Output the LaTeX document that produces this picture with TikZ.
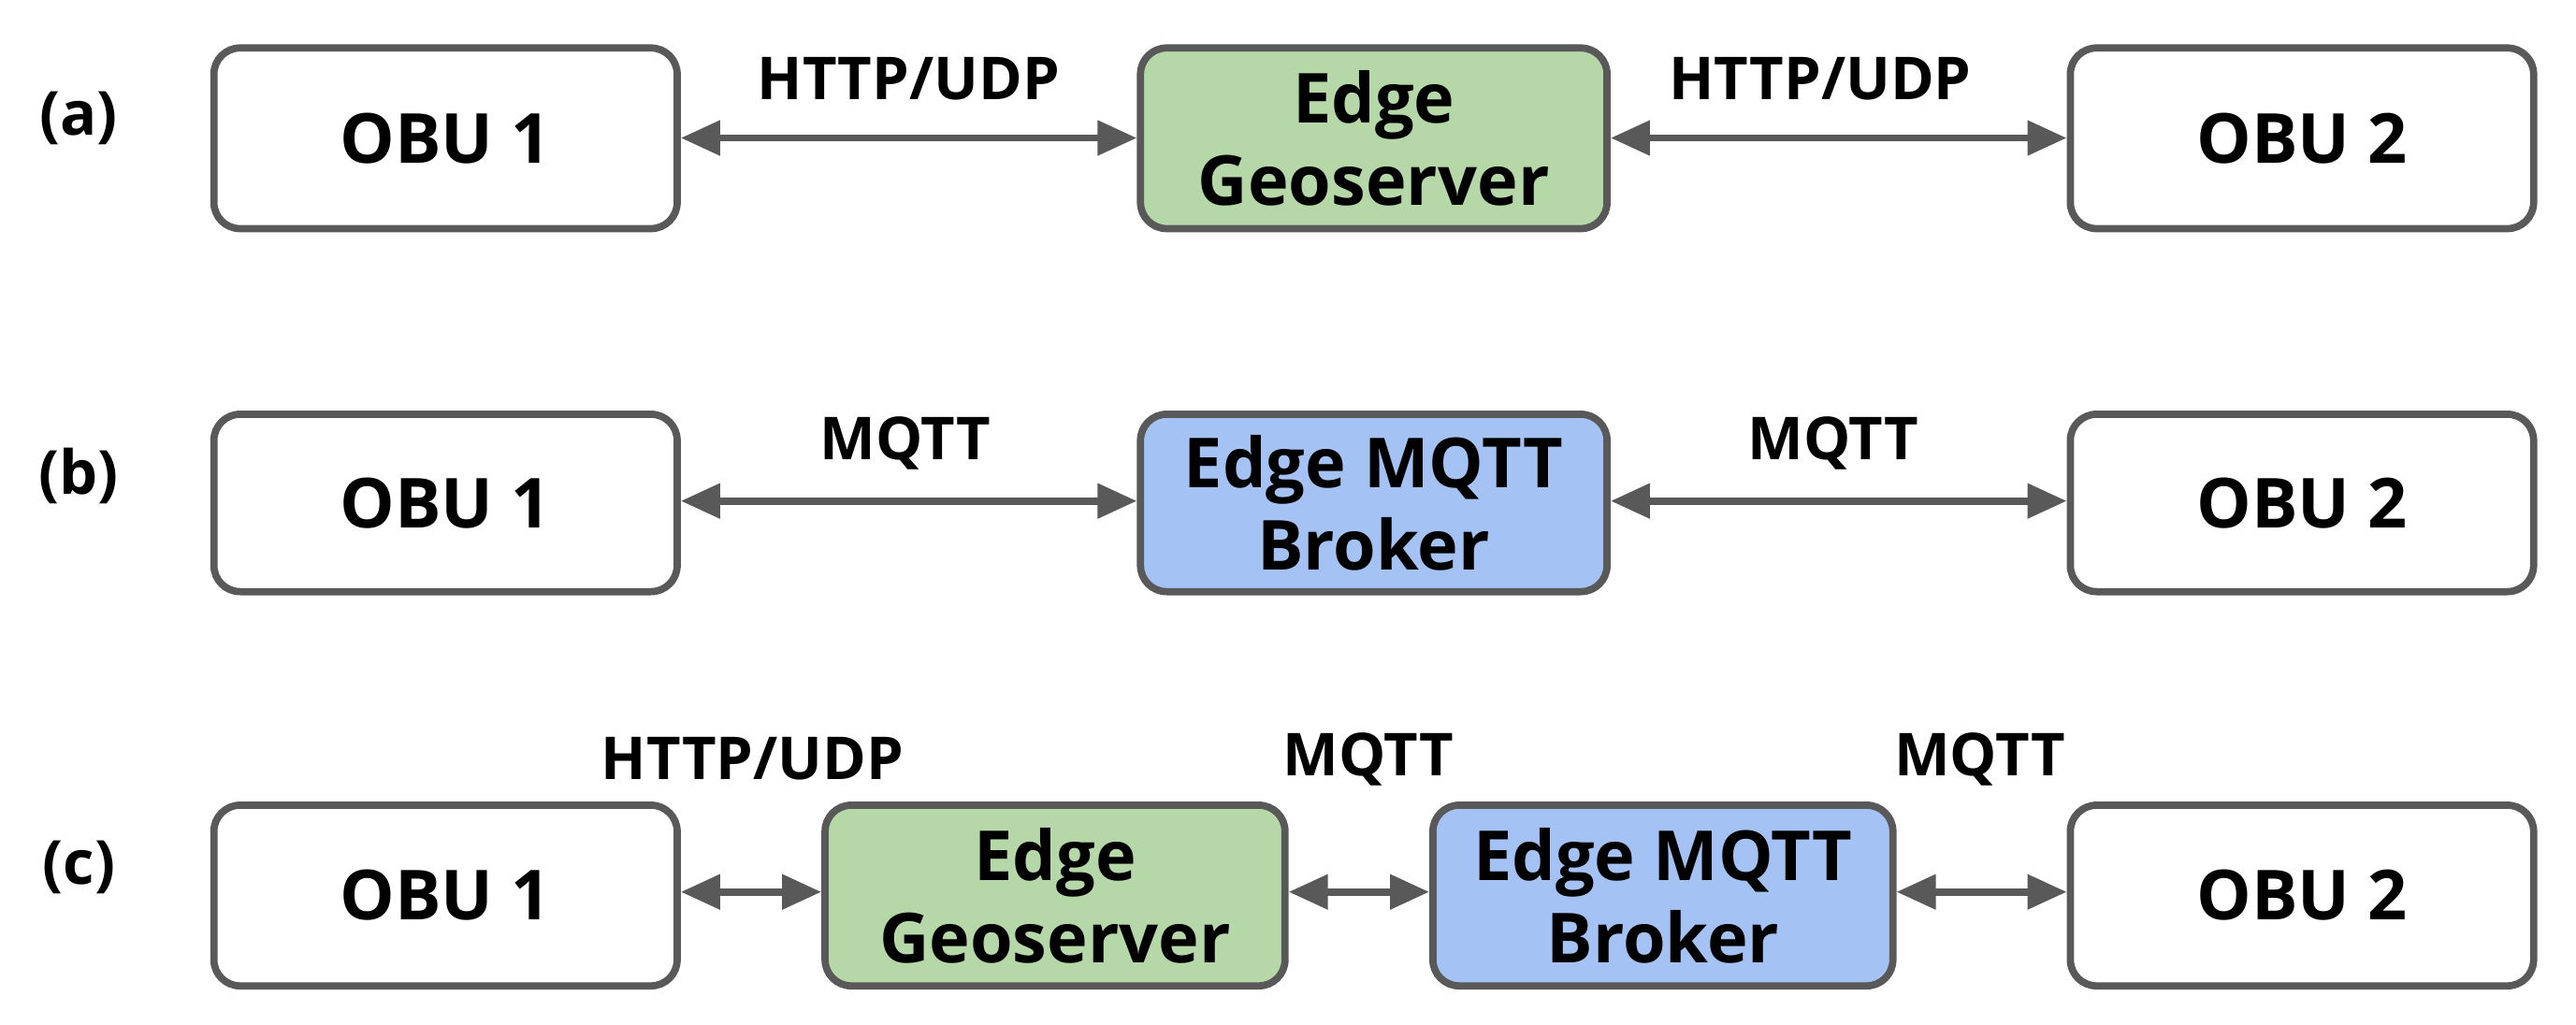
\documentclass[tikz,border=0pt]{standalone}
\usepackage{fontspec}
\setmainfont{Open Sans}
\usetikzlibrary{arrows.meta}
\definecolor{bd}{HTML}{595959}
\definecolor{gr}{HTML}{B6D7A8}
\definecolor{bl}{HTML}{A4C2F4}
\begin{document}
\begin{tikzpicture}[x=0.01756cm,y=-0.01756cm,
 box/.style={draw=bd,line width=2.2pt,rounded corners=0.28cm,fill=white,align=center,font=\bfseries\fontsize{21}{25}\selectfont,inner sep=0pt},
 lab/.style={font=\bfseries\fontsize{18}{21}\selectfont},
 row/.style={font=\bfseries\fontsize{18.5}{21}\selectfont},
 arr/.style={draw=bd,line width=2.2pt,{Triangle[length=0.42cm,width=0.36cm]}-{Triangle[length=0.42cm,width=0.36cm]}}]
\useasboundingbox (0,0) rectangle (1568,624);
\newcommand{\bx}[6]{\node[box,#6,minimum width=#4*0.01756cm,minimum height=#5*0.01756cm,anchor=north west] (#1) at (#2,#3) {};}
% row a
\bx{a1}{128}{27}{282}{110}{}
\bx{a2}{692}{27}{284}{110}{fill=gr}
\bx{a3}{1258}{27}{282}{110}{}
\node[box,draw=none,fill=none] at (a1) {OBU 1};
\node[box,draw=none,fill=none] at (a2) {Edge\\Geoserver};
\node[box,draw=none,fill=none] at (a3) {OBU 2};
\node[row] (la) at (48,72) {(a)};
\draw[arr] (a1.east|-0,84) -- (a2.west|-0,84);
\draw[arr] (a2.east|-0,84) -- (a3.west|-0,84);
\node[lab] (t1) at (553,48) {HTTP/UDP};
\node[lab] (t2) at (1108,48) {HTTP/UDP};
% row b
\bx{b1}{128}{250}{282}{108}{}
\bx{b2}{692}{250}{284}{108}{fill=bl}
\bx{b3}{1258}{250}{282}{108}{}
\node[box,draw=none,fill=none] at (b1) {OBU 1};
\node[box,draw=none,fill=none] at (b2) {Edge MQTT\\Broker};
\node[box,draw=none,fill=none] at (b3) {OBU 2};
\node[row] (lb) at (48,290) {(b)};
\draw[arr] (b1.east|-0,305) -- (b2.west|-0,305);
\draw[arr] (b2.east|-0,305) -- (b3.west|-0,305);
\node[lab] (t3) at (551,270) {MQTT};
\node[lab] (t4) at (1116,270) {MQTT};
% row c
\bx{c1}{128}{488}{282}{110}{}
\bx{c2}{500}{488}{280}{110}{fill=gr}
\bx{c3}{870}{488}{280}{110}{fill=bl}
\bx{c4}{1258}{488}{282}{110}{}
\node[box,draw=none,fill=none] at (c1) {OBU 1};
\node[box,draw=none,fill=none] at (c2) {Edge\\Geoserver};
\node[box,draw=none,fill=none] at (c3) {Edge MQTT\\Broker};
\node[box,draw=none,fill=none] at (c4) {OBU 2};
\node[row] (lc) at (48,528) {(c)};
\draw[arr] (c1.east|-0,543) -- (c2.west|-0,543);
\draw[arr] (c2.east|-0,543) -- (c3.west|-0,543);
\draw[arr] (c3.east|-0,543) -- (c4.west|-0,543);
\node[lab] (t5) at (458,462) {HTTP/UDP};
\node[lab] (t6) at (833,462) {MQTT};
\node[lab] (t7) at (1205,462) {MQTT};
\end{tikzpicture}
\end{document}
